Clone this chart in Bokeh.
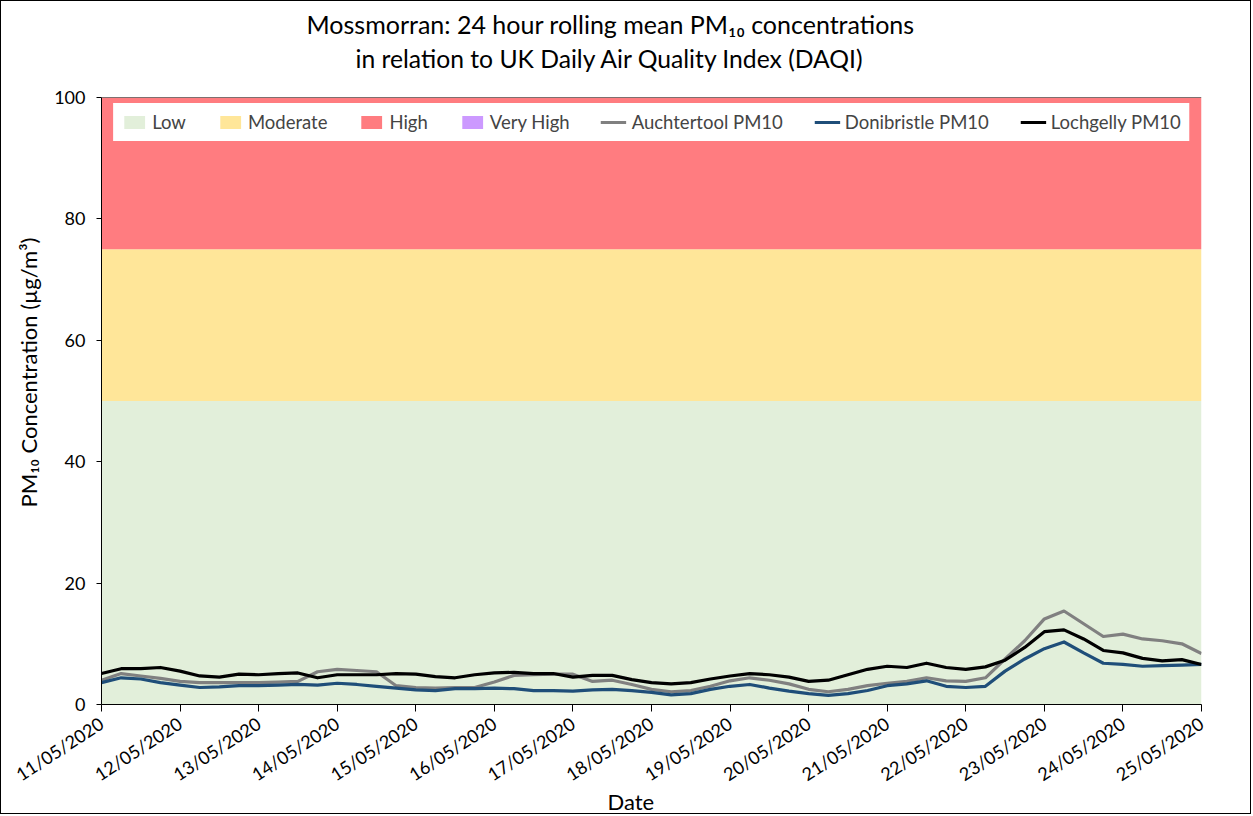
import math
import pandas as pd
from bokeh.plotting import figure
from bokeh.models import FixedTicker, Span, Title, ColumnDataSource
from bokeh.embed import file_html
from bokeh.resources import INLINE

# ---------------- data ----------------
times = pd.date_range("2020-05-11", periods=57, freq="6h")  # 6-hourly samples

auchtertool = [4.0, 5.1, 4.7, 4.3, 3.8, 3.6, 3.6, 3.6, 3.6, 3.7,
               3.8, 5.4, 5.8, 5.6, 5.4, 3.1, 2.8, 2.7, 2.8, 2.8,
               3.7, 4.8, 4.9, 5.0, 5.0, 3.8, 4.0, 3.3, 2.5, 2.1,
               2.3, 3.0, 3.9, 4.4, 4.0, 3.4, 2.5, 2.1, 2.5, 3.1,
               3.5, 3.8, 4.4, 3.9, 3.8, 4.4, 7.5, 10.5, 14.1, 15.4,
               13.3, 11.2, 11.6, 10.8, 10.5, 10.0, 8.4]
donibristle = [3.6, 4.4, 4.2, 3.6, 3.2, 2.8, 2.9, 3.1, 3.1, 3.2,
               3.3, 3.2, 3.5, 3.3, 3.0, 2.7, 2.4, 2.3, 2.6, 2.6,
               2.7, 2.6, 2.3, 2.3, 2.2, 2.4, 2.5, 2.3, 2.0, 1.6,
               1.8, 2.5, 3.0, 3.3, 2.7, 2.2, 1.8, 1.5, 1.8, 2.3,
               3.1, 3.4, 3.9, 3.0, 2.8, 3.0, 5.5, 7.5, 9.2, 10.3,
               8.5, 6.8, 6.6, 6.3, 6.4, 6.5, 6.6]
lochgelly = [5.1, 5.9, 5.9, 6.1, 5.5, 4.7, 4.5, 5.0, 4.9, 5.1,
             5.2, 4.4, 4.9, 4.9, 4.9, 5.1, 5.0, 4.6, 4.4, 4.9,
             5.2, 5.3, 5.1, 5.1, 4.5, 4.8, 4.8, 4.1, 3.6, 3.4,
             3.6, 4.2, 4.7, 5.1, 4.9, 4.5, 3.8, 4.0, 4.9, 5.8,
             6.3, 6.1, 6.8, 6.1, 5.8, 6.2, 7.3, 9.4, 12.0, 12.3,
             10.8, 8.9, 8.5, 7.6, 7.2, 7.4, 6.6]

tick_labels = ["11/05/2020", "12/05/2020", "13/05/2020", "14/05/2020",
               "15/05/2020", "16/05/2020", "17/05/2020", "18/05/2020",
               "19/05/2020", "20/05/2020", "21/05/2020", "22/05/2020",
               "23/05/2020", "24/05/2020", "25/05/2020"]

band_names = ["Low", "Moderate", "High", "Very High"]
band_bottom = [0, 50, 75, 100]
band_top = [50, 75, 100, 100]
band_colors = ["#E2EFDA", "#FFE699", "#FF7C80", "#CC99FF"]

series_names = ["Auchtertool PM10", "Donibristle PM10", "Lochgelly PM10"]
series_colors = ["#808080", "#1F4E79", "#000000"]

title_lines = ["Mossmorran: 24 hour rolling mean PM\u2081\u2080 concentrations",
               "in relation to UK Daily Air Quality Index (DAQI)"]
x_title = "Date"
y_title = "PM\u2081\u2080 Concentration (\u00b5g/m\u00b3)"

FONT = "Lato"
W, H = 1251, 814                     # + 1px CSS border on each side
ML, MR, MT, MB = 100, 51, 96, 111    # frame margins (px)

# ---------------- figure ----------------
tick_dates = pd.to_datetime(tick_labels, format="%d/%m/%Y")
x0, x1 = tick_dates[0], tick_dates[-1]

p = figure(width=W, height=H, x_axis_type="datetime",
           x_range=(x0, x1), y_range=(0, 100),
           output_backend="svg", toolbar_location=None,
           min_border_left=ML, min_border_right=MR,
           min_border_top=MT, min_border_bottom=MB)
p.styles = {"border": "1px solid black"}

for i in range(len(band_names)):
    src = ColumnDataSource(dict(left=[x0], right=[x1],
                                bottom=[band_bottom[i]], top=[band_top[i]]))
    p.quad(left="left", right="right", bottom="bottom", top="top", source=src,
           fill_color=band_colors[i], line_color=None,
           legend_label=band_names[i])

for name, vals, col in zip(series_names, [auchtertool, donibristle, lochgelly], series_colors):
    src = ColumnDataSource(dict(x=times, y=vals))
    p.line("x", "y", source=src, line_color=col, line_width=3.2,
           line_join="round", legend_label=name)

p.add_layout(Span(location=100, dimension="width", line_color="black", line_width=1))

# titles (first added sits nearest the frame); a blank spacer lifts them
p.add_layout(Title(text=" ", text_font_size="1px", standoff=22), "above")
p.add_layout(Title(text=title_lines[1], align="left", offset=254, standoff=0,
                   text_font=FONT, text_font_size="24.7px", text_font_style="normal",
                   text_color="black"), "above")
p.add_layout(Title(text=title_lines[0], align="left", offset=205, standoff=6,
                   text_font=FONT, text_font_size="25px", text_font_style="normal",
                   text_color="black"), "above")
p.add_layout(Title(text=x_title, align="left", offset=506, standoff=-20,
                   vertical_align="top",
                   text_font=FONT, text_font_size="22px", text_font_style="normal",
                   text_color="black"), "below")
p.add_layout(Title(text=y_title, align="left", offset=197, standoff=19,
                   text_font=FONT, text_font_size="22px", text_font_style="normal",
                   text_color="black"), "left")

# axes
p.xgrid.grid_line_color = None
p.ygrid.grid_line_color = None
p.outline_line_color = None

xa = p.xaxis[0]
xa.ticker = FixedTicker(ticks=[d.value / 1e6 for d in tick_dates])
xa.major_label_overrides = {d.value / 1e6: lab for d, lab in zip(tick_dates, tick_labels)}
xa.major_label_orientation = math.radians(33)
xa.minor_tick_line_color = None
xa.major_tick_out = 7
xa.major_tick_in = 0
xa.axis_line_color = "black"
xa.major_tick_line_color = "black"
xa.major_label_text_font = FONT
xa.major_label_text_font_size = "18px"
xa.major_label_text_color = "black"
xa.major_label_standoff = 10

ya = p.yaxis[0]
ya.ticker = FixedTicker(ticks=[0, 20, 40, 60, 80, 100])
ya.minor_tick_line_color = None
ya.major_tick_out = 5
ya.major_tick_in = 0
ya.axis_line_color = "black"
ya.major_tick_line_color = "black"
ya.major_label_text_font = FONT
ya.major_label_text_font_size = "18px"
ya.major_label_text_color = "black"
ya.major_label_standoff = 11

lg = p.legend[0]
lg.orientation = "horizontal"
lg.location = "top_center"
lg.margin = 6
lg.padding = 7
lg.spacing = 31
lg.label_text_font = FONT
lg.label_text_font_size = "18.5px"
lg.label_standoff = 5
lg.glyph_width = 26
lg.glyph_height = 16
lg.border_line_color = "white"
lg.border_line_width = 1
lg.background_fill_color = "white"
lg.background_fill_alpha = 1.0

open("out.html", "w").write(file_html(p, INLINE))
